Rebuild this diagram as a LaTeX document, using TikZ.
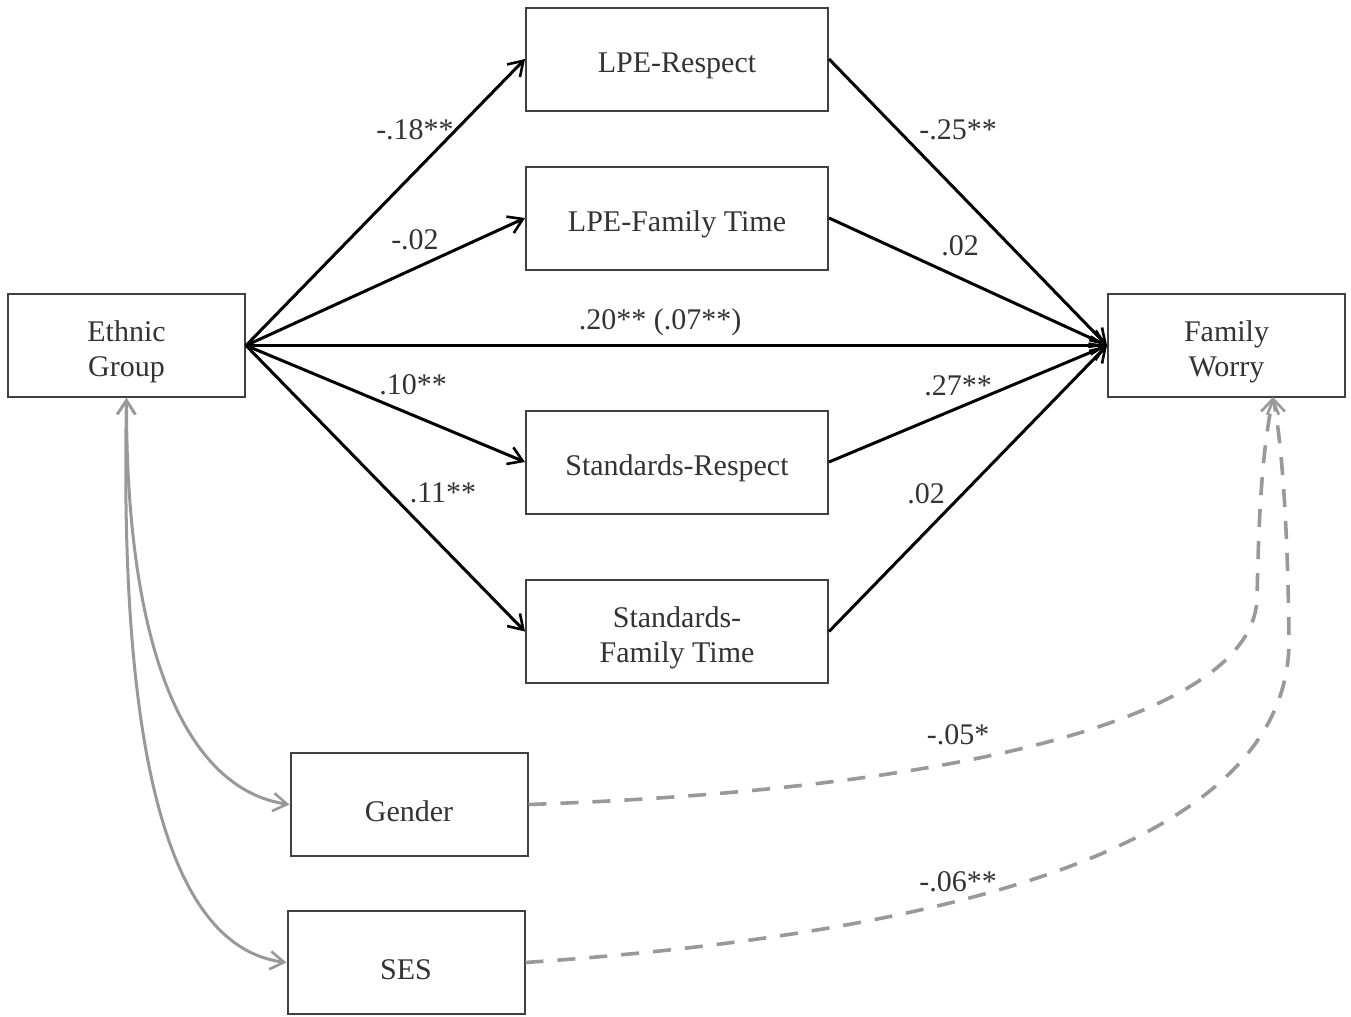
\documentclass[tikz,border=0pt]{standalone}
\usepackage{fontspec}
\setmainfont{Liberation Serif}
\usetikzlibrary{arrows.meta}
\begin{document}
\begin{tikzpicture}[x=0.5pt,y=-0.5pt,
    box/.style={draw=black!75,line width=1pt,fill=white,text=black!80,
      minimum height=51.5pt,align=center,font=\fontsize{15}{17.5}\selectfont,
      execute at begin node={\rule{0pt}{17pt}}},
    wide/.style={box,minimum width=151pt},
    narrow/.style={box,minimum width=118.5pt},
    lbl/.style={text=black!80,font=\fontsize{15}{17.5}\selectfont,inner sep=0pt},
    effect/.style={-{Straight Barb[length=7pt,width=9pt,line width=1.3pt]},line width=1.5pt,black},
    covar/.style={{Straight Barb[length=7pt,width=9pt,line width=1.3pt]}-{Straight Barb[length=7pt,width=9pt,line width=1.3pt]},line width=1.5pt,black!40},
    control/.style={-{Straight Barb[length=7pt,width=9pt,line width=1.3pt]},line width=1.8pt,black!40,dash pattern=on 9pt off 7pt}]
  \useasboundingbox (0,0) rectangle (1351,1017);
  % variables
  \node[narrow] (eth) at (126.5,345.5) {\rule{0pt}{17pt}Ethnic\\Group};
  \node[narrow] (fw) at (1226.5,345.5) {\rule{0pt}{17pt}Family\\Worry};
  \node[wide] (lpr) at (677,59) {LPE-Respect};
  \node[wide] (lpf) at (677,218) {LPE-Family Time};
  \node[wide] (str) at (677,462) {Standards-Respect};
  \node[wide] (stf) at (677,631.5) {\rule{0pt}{17pt}Standards-\\Family Time};
  \node[narrow] (gen) at (409,804.5) {Gender};
  \node[narrow] (ses) at (406,962.5) {SES};
  % paths
  \draw[effect] (eth.east) -- (lpr.west);
  \draw[effect] (eth.east) -- (lpf.west);
  \draw[effect] (eth.east) -- (str.west);
  \draw[effect] (eth.east) -- (stf.west);
  \draw[effect] (eth.east) -- (fw.west);
  \draw[effect] (lpr.east) -- (fw.west);
  \draw[effect] (lpf.east) -- (fw.west);
  \draw[effect] (str.east) -- (fw.west);
  \draw[effect] (stf.east) -- (fw.west);
  % covariates
  \draw[covar] (eth.south) .. controls (126,660) and (190,790) .. (gen.west);
  \draw[covar] (eth.south) .. controls (118,820) and (190,950) .. (ses.west);
  \coordinate (fwin) at (1273,397);
  \draw[control] (gen.east) .. controls (950,790) and (1250,720) .. (1257,600)
    .. controls (1259,500) and (1263,450) .. (fwin);
  \draw[control] (ses.east) .. controls (1000,930) and (1290,830) .. (1289,640)
    .. controls (1288,540) and (1283,450) .. (fwin);
  % coefficients
  \node[lbl] (c1) at (415,130) {-.18**};
  \node[lbl] (c2) at (415,240) {-.02};
  \node[lbl] (c3) at (660,322) {.20** (.07**)};
  \node[lbl] (c4) at (413,385) {.10**};
  \node[lbl] (c5) at (443,493) {.11**};
  \node[lbl] (c6) at (958,130) {-.25**};
  \node[lbl] (c7) at (960,246) {.02};
  \node[lbl] (c8) at (958,386) {.27**};
  \node[lbl] (c9) at (926,494) {.02};
  \node[lbl] (c10) at (958,735) {-.05*};
  \node[lbl] (c11) at (958,882) {-.06**};
\end{tikzpicture}
\end{document}
